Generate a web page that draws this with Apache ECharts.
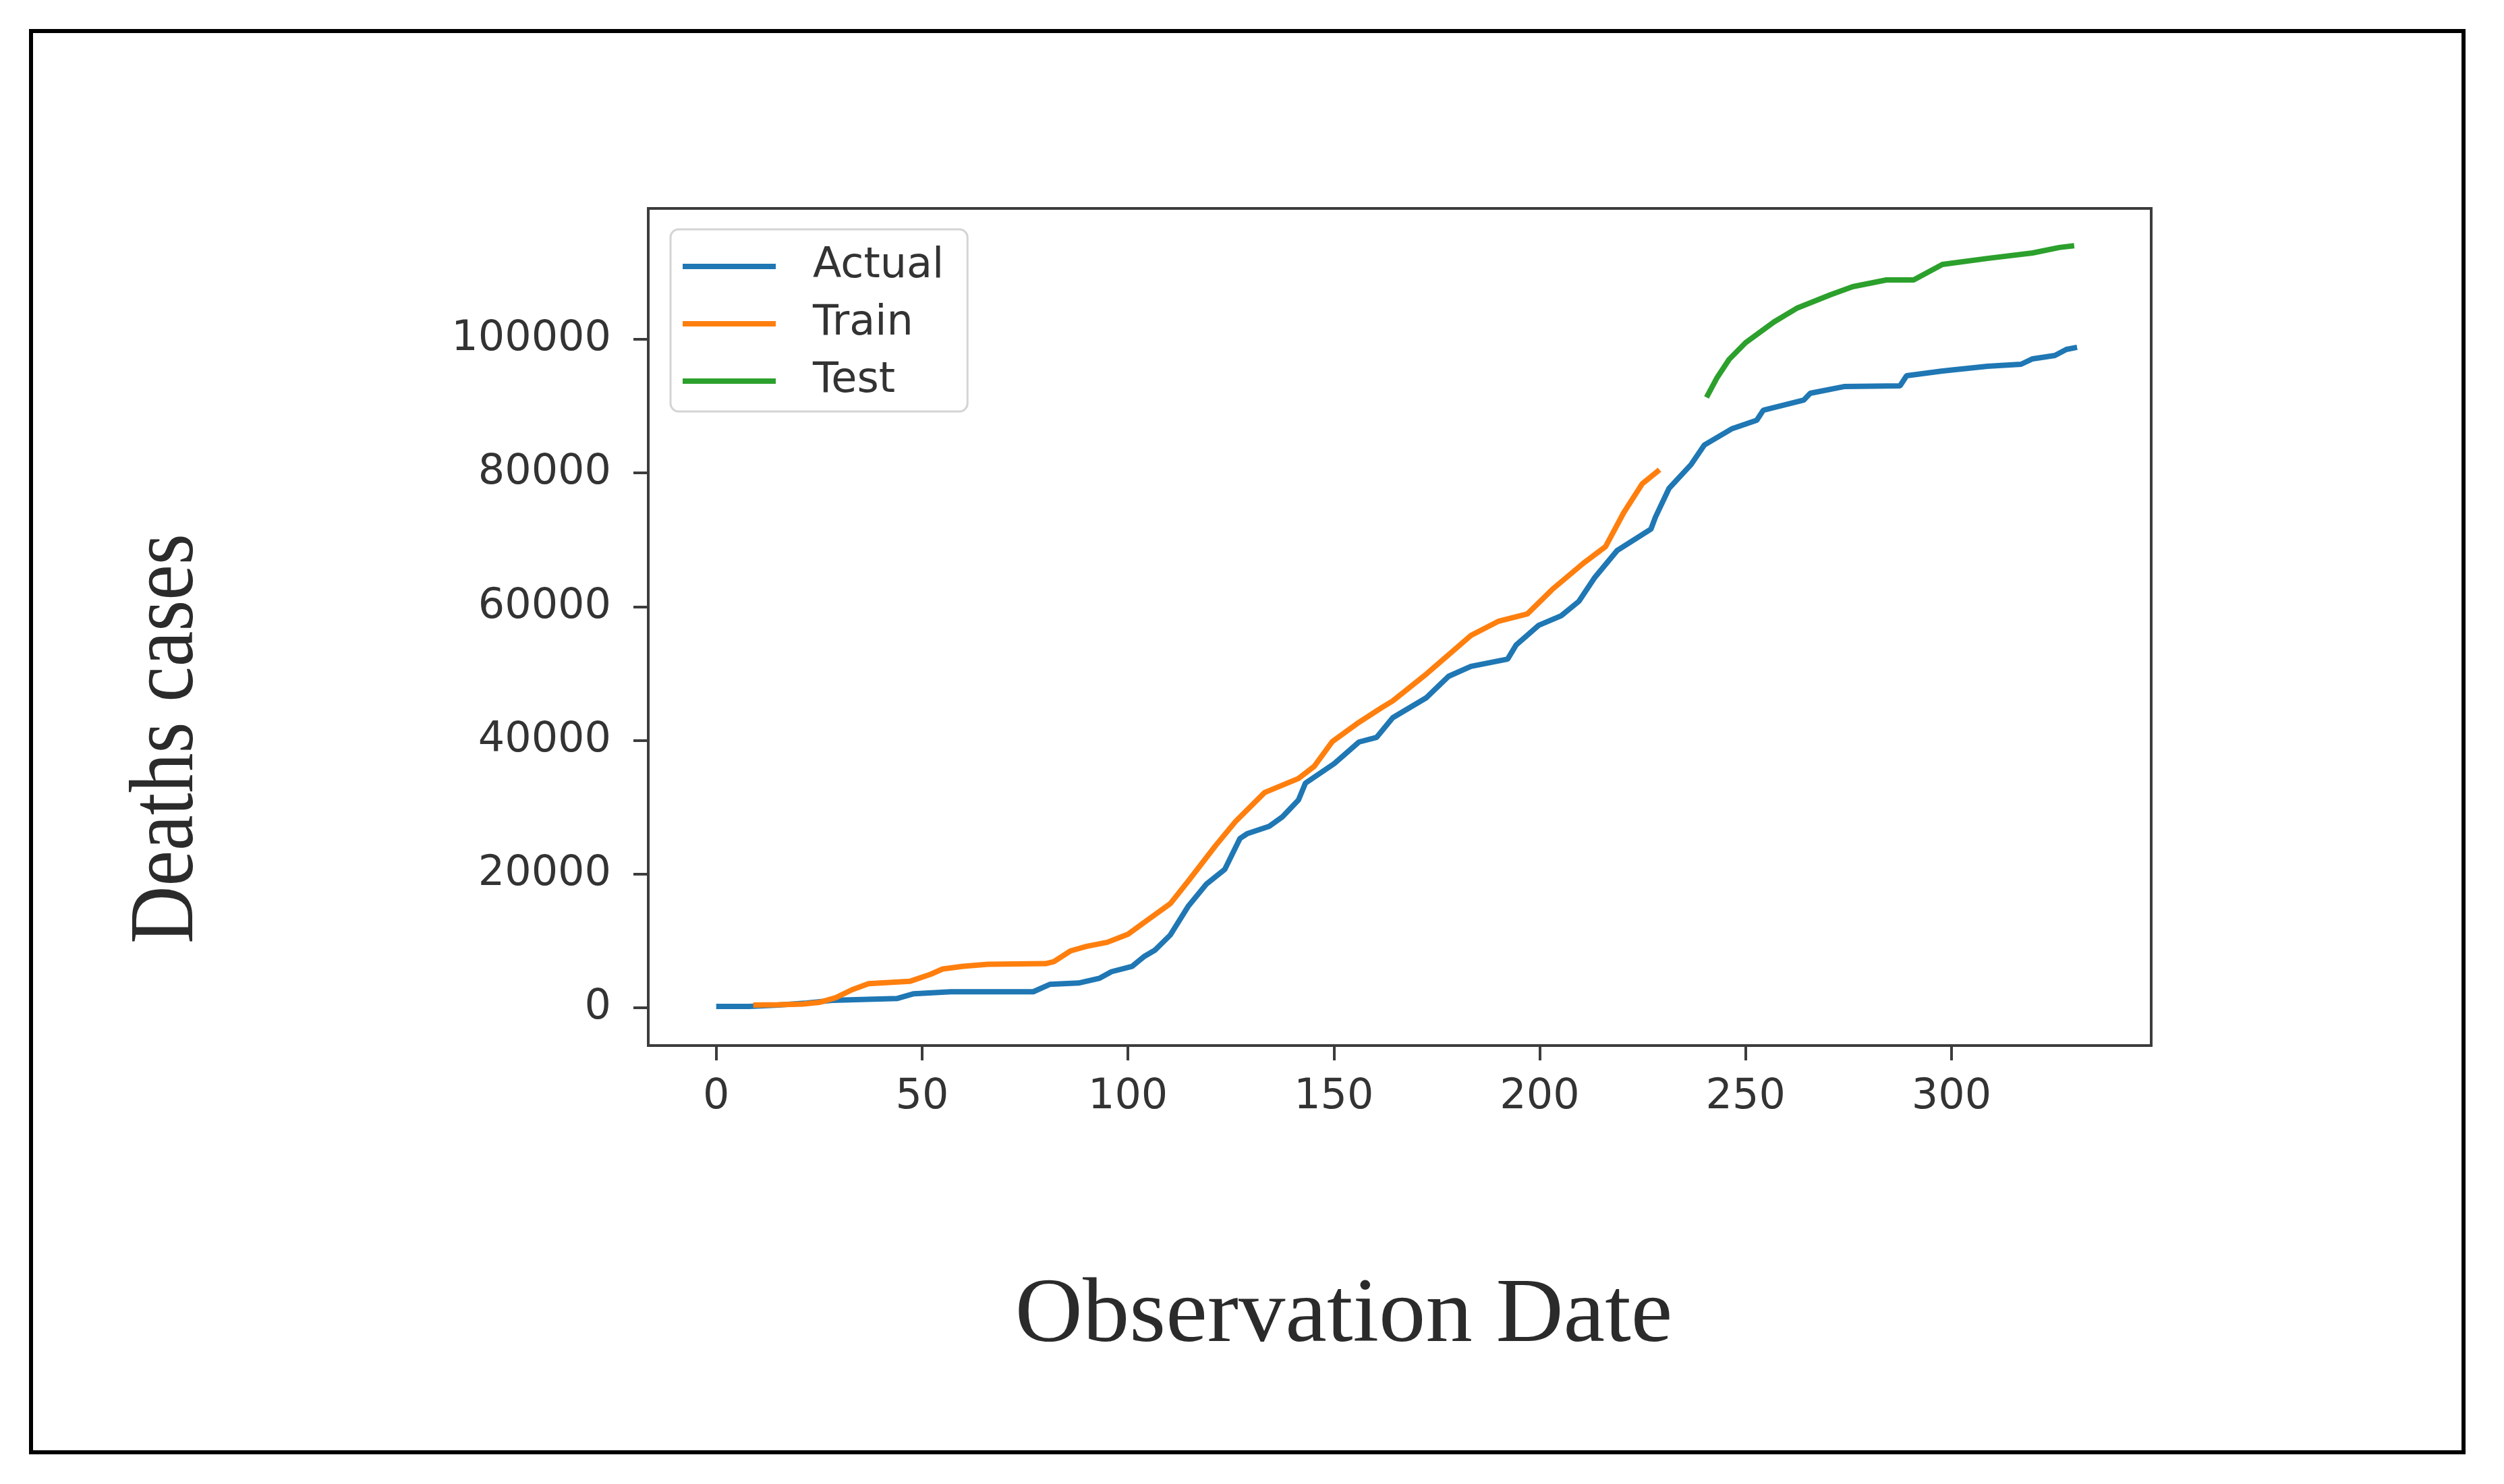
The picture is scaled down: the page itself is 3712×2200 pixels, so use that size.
<!DOCTYPE html>
<html>
<head>
<meta charset="utf-8">
<script src="https://cdn.jsdelivr.net/npm/echarts@6/dist/echarts.min.js"></script>
<style>
html,body{margin:0;padding:0;background:#fff;}
#chart{width:3712px;height:2200px;}
</style>
</head>
<body>
<div id="chart"></div>
<script>
// ---- data (day index, deaths) ----
const actualDays = [0, 8, 15, 22, 28, 44, 48, 57, 77, 81, 88, 93, 96, 101, 104, 106.5, 110.3, 114.7, 119, 123.5, 127.2, 128.9, 134.3, 137.5, 141.4, 143.1, 150.1, 156.1, 160.4, 164.3, 172.5, 177.9, 183.3, 192.2, 194.3, 199.7, 205.2, 209.5, 213.4, 218.8, 227, 228.1, 231.4, 236.8, 240, 246.6, 252.7, 254.3, 264.1, 265.7, 273.9, 287.5, 289.1, 297.8, 308.7, 316.9, 319.7, 325.1, 327.9, 330.5];
const actualVals = [200, 200, 400, 700, 1100, 1400, 2100, 2400, 2400, 3500, 3700, 4400, 5400, 6200, 7700, 8600, 10900, 15240, 18470, 20690, 25330, 26030, 27140, 28560, 31080, 33600, 36530, 39760, 40460, 43390, 46400, 49600, 51080, 52160, 54300, 57200, 58640, 60800, 64400, 68400, 71600, 73400, 77700, 81300, 84200, 86600, 87890, 89400, 90900, 91930, 92930, 93040, 94550, 95260, 95960, 96270, 97080, 97580, 98490, 98800];

const trainDays = [9, 15, 21, 25, 29, 33, 37, 47, 52, 55, 60, 66, 80, 82, 86, 90, 95, 100, 104, 110.3, 114.7, 121.2, 126.1, 133.2, 141.4, 145.2, 149.6, 156.1, 161.6, 164.3, 172.5, 183.3, 189.9, 197, 203, 210.6, 216, 220.4, 224.9, 229.1];
const trainVals = [400, 450, 550, 800, 1500, 2700, 3600, 3950, 5000, 5800, 6200, 6500, 6600, 6900, 8500, 9200, 9800, 11000, 12800, 15600, 19000, 24200, 27850, 32200, 34300, 36100, 39800, 42700, 44900, 45900, 49950, 55700, 57800, 58930, 62560, 66500, 69000, 74070, 78400, 80500];

const testDays = [240.5, 243, 246, 250, 256.9, 262.4, 270.6, 276, 284.2, 290.8, 297.8, 308.7, 319.7, 326.2, 329.8];
const testVals = [91300, 94200, 97000, 99500, 102600, 104640, 106660, 107870, 108880, 108880, 111200, 112100, 112920, 113740, 114000];

const xTicks = [0, 50, 100, 150, 200, 250, 300];
const yTicks = [0, 20000, 40000, 60000, 80000, 100000];

const seriesNames = ['Actual', 'Train', 'Test'];
const seriesColors = ['#1f77b4', '#ff7f0e', '#2ca02c'];

function pairs(xs, ys) { return xs.map((x, i) => [x, ys[i]]); }

const chart = echarts.init(document.getElementById('chart'), null, {renderer: 'canvas'});
const axisColor = '#3c3c3c';
const textColor = '#333333';

const option = {
  backgroundColor: '#ffffff',
  animation: false,
  grid: {
    left: 961, top: 309, right: 3712 - 3189, bottom: 2200 - 1550,
    show: true, borderColor: axisColor, borderWidth: 4, backgroundColor: '#ffffff',
    containLabel: false, outerBoundsMode: 'none'
  },
  legend: {
    orient: 'vertical', left: 994, top: 340,
    padding: [19, 35, 9, 18],
    itemGap: 13, itemWidth: 138, itemHeight: 8, icon: 'rect',
    borderColor: '#d4d4d4', borderWidth: 3, borderRadius: 12, backgroundColor: '#ffffff',
    data: seriesNames,
    textStyle: {fontFamily: 'DejaVu Sans', fontSize: 62, color: textColor, lineHeight: 72, padding: [0, 0, 0, 50]}
  },
  xAxis: {
    type: 'value', min: -16.5, max: 348.5,
    splitLine: {show: false},
    axisLine: {show: true, onZero: false, lineStyle: {color: axisColor, width: 4}},
    axisTick: {show: true, inside: false, length: 22, customValues: xTicks, lineStyle: {color: axisColor, width: 4}},
    axisLabel: {customValues: xTicks, margin: 46, fontFamily: 'DejaVu Sans', fontSize: 62, color: textColor, formatter: v => String(v)}
  },
  yAxis: {
    type: 'value', min: -5650, max: 119580,
    splitLine: {show: false},
    axisLine: {show: true, onZero: false, lineStyle: {color: axisColor, width: 4}},
    axisTick: {show: true, inside: false, length: 22, customValues: yTicks, lineStyle: {color: axisColor, width: 4}},
    axisLabel: {customValues: yTicks, margin: 55, fontFamily: 'DejaVu Sans', fontSize: 62, color: textColor, formatter: v => String(v)}
  },
  series: [
    {name: seriesNames[0], type: 'line', data: pairs(actualDays, actualVals), showSymbol: false, symbol: 'none', color: seriesColors[0], lineStyle: {width: 8, color: seriesColors[0]}, z: 3},
    {name: seriesNames[1], type: 'line', data: pairs(trainDays, trainVals), showSymbol: false, symbol: 'none', color: seriesColors[1], lineStyle: {width: 8, color: seriesColors[1]}, z: 4},
    {name: seriesNames[2], type: 'line', data: pairs(testDays, testVals), showSymbol: false, symbol: 'none', color: seriesColors[2], lineStyle: {width: 8, color: seriesColors[2]}, z: 5}
  ],
  graphic: [
    {type: 'rect', z: 100, silent: true, shape: {x: 46, y: 46, width: 3606, height: 2107},
     style: {fill: 'none', stroke: '#000000', lineWidth: 6}},
    {type: 'text', z: 100, x: 249, y: 1095, rotation: Math.PI / 2, scaleX: 0.87, scaleY: 1,
     style: {text: 'Deaths cases', fontFamily: 'Liberation Serif', fontSize: 136, fill: '#2b2b2b', align: 'center', verticalAlign: 'middle', textAlign: 'center', textVerticalAlign: 'middle'}},
    {type: 'text', z: 100, x: 1992, y: 1952, scaleX: 1.02, scaleY: 1,
     style: {text: 'Observation Date', fontFamily: 'Liberation Serif', fontSize: 136, fill: '#2b2b2b', align: 'center', verticalAlign: 'middle', textAlign: 'center', textVerticalAlign: 'middle'}}
  ]
};
chart.setOption(option);
</script>
</body>
</html>
